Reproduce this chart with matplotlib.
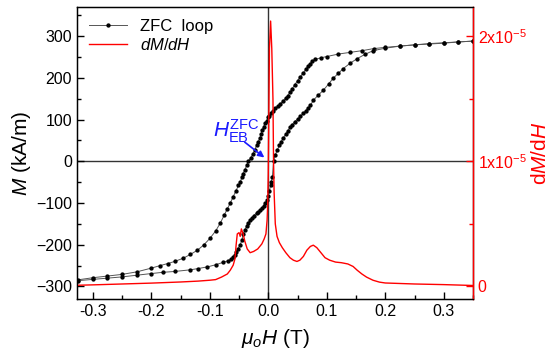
import matplotlib
matplotlib.use('Agg')
import matplotlib.pyplot as plt
from matplotlib.ticker import MultipleLocator, FixedLocator, FixedFormatter

plt.rcParams['font.family'] = ['Liberation Sans', 'DejaVu Sans']
plt.rcParams['mathtext.fontset'] = 'custom'
plt.rcParams['mathtext.rm'] = 'Liberation Sans'
plt.rcParams['mathtext.it'] = 'Liberation Sans:italic'
plt.rcParams['mathtext.bf'] = 'Liberation Sans:bold'

# ZFC loop, field going down (upper branch), T and kA/m
h_down = [0.35, 0.325, 0.30, 0.275, 0.25, 0.225, 0.20, 0.18, 0.16, 0.14, 0.12, 0.10,
          0.09, 0.08, 0.075, 0.072, 0.068, 0.065, 0.06, 0.055, 0.05, 0.045, 0.041,
          0.037, 0.033, 0.03, 0.025, 0.02, 0.016, 0.012, 0.008, 0.005, 0.002, 0.0,
          -0.003, -0.005, -0.008, -0.01, -0.012, -0.014, -0.017, -0.02, -0.023,
          -0.026, -0.03, -0.034, -0.037, -0.04, -0.043, -0.045, -0.048, -0.051,
          -0.055, -0.06, -0.065, -0.07, -0.075, -0.082, -0.09, -0.1, -0.11, -0.121,
          -0.133, -0.145, -0.16, -0.172, -0.185, -0.2, -0.225, -0.25, -0.275, -0.3,
          -0.325]
m_down = [288, 286, 283, 281, 279, 276, 273, 270, 265, 261, 257, 251,
          248, 244, 240, 234, 228, 222, 212, 203, 193, 183, 174,
          165, 157, 152, 144, 137, 132, 127, 120, 115, 109, 105,
          97, 92, 83, 75, 66, 57, 47, 38, 28,
          18, 8, 0, -10, -20, -30, -38, -50, -58,
          -70, -85, -100, -114, -128, -148, -167, -185, -200, -213,
          -223, -232, -240, -245, -250, -256, -265, -271, -275, -279,
          -284]

# ZFC loop, field going up (lower branch)
h_up = [-0.325, -0.3, -0.275, -0.25, -0.225, -0.2, -0.18, -0.16, -0.133, -0.12,
        -0.104, -0.09, -0.077, -0.068, -0.063, -0.06, -0.057, -0.055, -0.052,
        -0.048, -0.045, -0.043, -0.04, -0.037, -0.034, -0.031, -0.028, -0.025,
        -0.02, -0.017, -0.014, -0.011, -0.008, -0.005, -0.002, 0.0, 0.002, 0.004,
        0.005, 0.007, 0.009, 0.012, 0.015, 0.019, 0.022, 0.026, 0.03, 0.033,
        0.037, 0.041, 0.045, 0.05, 0.055, 0.06, 0.064, 0.068, 0.072, 0.077,
        0.085, 0.094, 0.103, 0.111, 0.12, 0.128, 0.14, 0.152, 0.165, 0.179,
        0.2, 0.225, 0.25, 0.275, 0.30, 0.325, 0.35]
m_up = [-286, -283, -280, -277, -273, -269, -266, -264, -260, -257,
        -253, -248, -242, -238, -234, -230, -224, -218, -210,
        -200, -188, -175, -165, -155, -147, -141, -135, -130,
        -124, -121, -117, -112, -107, -100, -93, -82, -70, -58,
        -50, -38, 0, 15, 26, 38, 47, 57, 65, 72,
        81, 88, 95, 101, 108, 115, 121, 128, 134, 146,
        158, 170, 185, 199, 211, 222, 235, 246, 256, 265,
        271, 276, 279, 282, 284, 286, 288]

# dM/dH, in units of 1e-5
h_dm = [-0.325, -0.30, -0.25, -0.20, -0.15, -0.12, -0.10, -0.09, -0.08, -0.07,
        -0.065, -0.06, -0.057, -0.055, -0.053, -0.05, -0.048, -0.046, -0.043,
        -0.04, -0.036, -0.031, -0.025, -0.018, -0.011, -0.007, -0.004, -0.002,
        -0.001, 0.0, 0.001, 0.002, 0.004, 0.006, 0.008, 0.009, 0.010, 0.012,
        0.015, 0.019, 0.024, 0.030, 0.037, 0.043, 0.049, 0.054, 0.060, 0.066,
        0.072, 0.077, 0.083, 0.090, 0.097, 0.105, 0.115, 0.125, 0.136, 0.145,
        0.152, 0.160, 0.168, 0.179, 0.19, 0.20, 0.25, 0.30, 0.35]
dmdh = [0.010, 0.013, 0.020, 0.027, 0.036, 0.043, 0.050, 0.055, 0.075, 0.10,
        0.13, 0.17, 0.22, 0.33, 0.42, 0.43, 0.40, 0.46, 0.42,
        0.36, 0.30, 0.27, 0.28, 0.30, 0.34, 0.38, 0.42, 0.53,
        0.65, 0.9, 1.4, 1.9, 2.12, 1.9, 1.5, 1.0, 0.75, 0.5,
        0.40, 0.35, 0.31, 0.27, 0.23, 0.21, 0.20, 0.21, 0.24, 0.29,
        0.32, 0.33, 0.31, 0.27, 0.23, 0.21, 0.195, 0.19, 0.18, 0.16,
        0.13, 0.10, 0.075, 0.05, 0.035, 0.028, 0.02, 0.015, 0.008]

fig = plt.figure(figsize=(5.5, 3.62), dpi=100)
ax = fig.add_axes([0.14, 0.174, 0.72, 0.807])

ax.axhline(0, color='#333333', lw=1.0, zorder=1)
ax.axvline(0, color='#333333', lw=1.0, zorder=1)

loop_down, = ax.plot(h_down, m_down, color='#555555', lw=0.7, marker='o', ms=2.1,
                     mfc='black', mec='black', label='ZFC  loop', zorder=3)
ax.plot(h_up, m_up, color='#555555', lw=0.7, marker='o', ms=2.1,
        mfc='black', mec='black', zorder=3)

ax.set_xlim(-0.327, 0.35)
ax.set_ylim(-330, 370)
ax.xaxis.set_major_locator(MultipleLocator(0.1))
ax.xaxis.set_minor_locator(MultipleLocator(0.05))
ax.yaxis.set_major_locator(MultipleLocator(100))
ax.yaxis.set_minor_locator(MultipleLocator(50))
ax.tick_params(which='both', direction='in', top=False, right=False, labelsize=11.5)
ax.tick_params(which='major', length=5, width=1)
ax.tick_params(which='minor', length=3, width=1)
ax.xaxis.set_major_formatter(plt.FuncFormatter(lambda v, p: '%.1f' % v if abs(v) > 1e-9 else '0.0'))
for s in ax.spines.values():
    s.set_linewidth(1.0)

ax.set_xlabel(r'$\mu_{o}H$ (T)', fontsize=15, labelpad=6)
ax.set_ylabel(r'$M$ (kA/m)', fontsize=15, labelpad=2)

ax2 = ax.twinx()
ax2.set_position(ax.get_position())
dm_line, = ax2.plot(h_dm, [v * 1e-5 for v in dmdh], color='red', lw=1.0, label=r'$dM/dH$')
ax2.set_ylim(-0.1e-5, 2.2333e-5)
ax2.yaxis.set_major_locator(FixedLocator([0, 1e-5, 2e-5]))
ax2.yaxis.set_major_formatter(FixedFormatter(['0', r'1x10$^{-5}$', r'2x10$^{-5}$']))
ax2.yaxis.set_minor_locator(FixedLocator([0.5e-5, 1.5e-5]))
ax2.tick_params(which='both', direction='in', colors='red', labelsize=11.5)
ax2.tick_params(which='major', length=5, width=1)
ax2.tick_params(which='minor', length=3, width=1)
ax2.spines['right'].set_color('red')
ax2.spines['right'].set_linewidth(1.0)
ax2.set_ylabel(r'd$M$/d$H$', color='red', fontsize=15, labelpad=3)

ax.legend([loop_down, dm_line], ['ZFC  loop', r'$dM/dH$'], loc='upper left',
          frameon=False, fontsize=12, numpoints=1, handlelength=2.3,
          borderaxespad=0.3, labelspacing=0.2, bbox_to_anchor=(0.0, 1.0))

ax.text(-0.094, 72, r'$H^{\rm ZFC}_{\rm EB}$', color='#1a1aff', fontsize=15,
        ha='left', va='center', zorder=5)
ax.annotate('', xy=(-0.003, 5), xytext=(-0.044, 50),
            arrowprops=dict(arrowstyle='-|>', color='#1a1aff', lw=1.2, mutation_scale=9),
            zorder=5)

fig.savefig('out.png', dpi=100)
